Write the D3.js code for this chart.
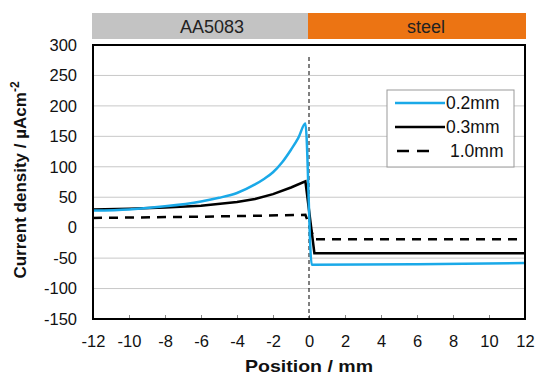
<!DOCTYPE html>
<html>
<head>
<meta charset="utf-8">
<script src="https://cdn.jsdelivr.net/npm/d3@7"></script>
<style>
  body { margin: 0; background: #fff; }
  text { font-family: "Liberation Sans", Arial, sans-serif; }
</style>
</head>
<body>
<div id="chart"></div>
<script>
// series: [position mm, current density µA/cm²]
const thin02 = [[-12, 28], [-10, 30], [-8, 35], [-6, 43], [-5, 49], [-4, 57], [-3, 71], [-2.5, 80],
  [-2, 91], [-1.5, 107], [-1, 128], [-0.6, 147], [-0.2, 171], [0.15, -61], [6, -60], [12, -58]];
const thin03 = [[-12, 30], [-10, 31], [-8, 33], [-6, 36], [-4, 42], [-3, 47], [-2, 55], [-1, 66],
  [-0.2, 76], [0.3, -42], [12, -42]];
const thick10 = [[-12, 16], [-6, 18], [-0.2, 21], [0.3, -19], [12, -19]];

const seriesNames = ["0.2mm", "0.3mm", "1.0mm"];
const xTicks = d3.range(-12, 13, 2);
const yTicks = d3.range(-150, 301, 50);
const materials = [{name: "AA5083", from: -12, to: 0}, {name: "steel", from: 0, to: 12}];

const W = 539, H = 379;
const plotLeft = 93, plotRight = 525, plotTop = 45, plotBottom = 319;

const svg = d3.select("#chart").append("svg").attr("width", W).attr("height", H);

const x = d3.scaleLinear().domain([-12, 12]).range([plotLeft, plotRight]);
const y = d3.scaleLinear().domain([-150, 300]).range([plotBottom, plotTop]);

// material bars on top
svg.selectAll("rect.mat")
  .data(materials)
  .enter().append("rect")
  .attr("class", "mat")
  .attr("x", d => x(d.from) - 1)
  .attr("y", 13)
  .attr("width", d => x(d.to) - x(d.from) + 2)
  .attr("height", 26)
  .attr("fill", (d, i) => i == 0 ? "#c3c3c3" : "#ec7413");

svg.selectAll("text.mat")
  .data(materials)
  .enter().append("text")
  .attr("class", "mat")
  .attr("x", (d, i) => i == 0 ? 212 : 426)
  .attr("y", 33)
  .attr("text-anchor", "middle")
  .attr("font-family", "'Open Sans', sans-serif")
  .attr("font-size", 18)
  .attr("fill", "#222")
  .text(d => d.name);

// grid
svg.append("g")
  .selectAll("line")
  .data(yTicks)
  .enter().append("line")
  .attr("x1", plotLeft).attr("x2", plotRight)
  .attr("y1", d => y(d)).attr("y2", d => y(d))
  .attr("stroke", "#c8c8c8")
  .attr("stroke-width", 1);

// y axis labels
svg.append("g")
  .attr("transform", `translate(${plotLeft},0)`)
  .call(d3.axisLeft(y).tickValues(yTicks).tickFormat(d => String(d)).tickSize(0).tickPadding(16))
  .call(g => g.select(".domain").remove())
  .call(g => g.selectAll("text").attr("font-size", 16.5).attr("fill", "#111")
    .attr("font-family", "'Liberation Sans', Arial, sans-serif"));

// x axis labels + small inner ticks
svg.append("g")
  .attr("transform", `translate(0,${plotBottom})`)
  .call(d3.axisBottom(x).tickValues(xTicks).tickFormat(d => String(d)).tickSize(-4).tickPadding(16))
  .call(g => g.select(".domain").remove())
  .call(g => g.selectAll("line").attr("stroke", "#888"))
  .call(g => g.selectAll("text").attr("font-size", 16.5).attr("fill", "#111")
    .attr("font-family", "'Liberation Sans', Arial, sans-serif"));

// dashed interface line
svg.append("line")
  .attr("x1", x(0)).attr("x2", x(0))
  .attr("y1", plotTop + 12).attr("y2", plotBottom)
  .attr("stroke", "#000")
  .attr("stroke-width", 1)
  .attr("stroke-dasharray", "4,3");

const line = d3.line().x(d => x(d[0])).y(d => y(d[1]));

svg.append("path").datum(thick10)
  .attr("d", line).attr("fill", "none")
  .attr("stroke", "#000").attr("stroke-width", 2.5)
  .attr("stroke-dasharray", "9,7");

svg.append("path").datum(thin03)
  .attr("d", line).attr("fill", "none")
  .attr("stroke", "#000").attr("stroke-width", 2.5);

svg.append("path").datum(thin02)
  .attr("d", d3.line().curve(d3.curveMonotoneX).x(d => x(d[0])).y(d => y(d[1])))
  .attr("fill", "none")
  .attr("stroke", "#1aa9e8").attr("stroke-width", 2.5);

// frame
svg.append("rect")
  .attr("x", plotLeft).attr("y", plotTop)
  .attr("width", plotRight - plotLeft).attr("height", plotBottom - plotTop)
  .attr("fill", "none").attr("stroke", "#000").attr("stroke-width", 2);

// legend
const legend = svg.append("g").attr("transform", "translate(387,90)");
legend.append("rect")
  .attr("width", 127).attr("height", 77)
  .attr("fill", "#fff").attr("stroke", "#999").attr("stroke-width", 1);

const legendStyles = [
  {color: "#1aa9e8", dash: null},
  {color: "#000", dash: null},
  {color: "#000", dash: "12,8"}
];

const rows = legend.selectAll("g.row")
  .data(seriesNames)
  .enter().append("g")
  .attr("class", "row")
  .attr("transform", (d, i) => `translate(0,${13 + i * 24})`);

rows.append("line")
  .attr("x1", (d, i) => i == 2 ? 10 : 8).attr("x2", (d, i) => i == 2 ? 50 : 58)
  .attr("stroke", (d, i) => legendStyles[i].color)
  .attr("stroke-width", 2.5)
  .attr("stroke-dasharray", (d, i) => legendStyles[i].dash);

rows.append("text")
  .attr("x", (d, i) => i == 2 ? 63 : 59)
  .attr("y", 6)
  .attr("font-size", 17.5)
  .attr("fill", "#111")
  .text(d => d);

// axis titles
svg.append("text")
  .attr("x", x(0))
  .attr("y", 372)
  .attr("text-anchor", "middle")
  .attr("font-size", 17)
  .attr("font-weight", "bold")
  .attr("fill", "#111")
  .attr("textLength", 128)
  .attr("lengthAdjust", "spacingAndGlyphs")
  .text("Position / mm");

svg.append("text")
  .attr("transform", `translate(26,180) rotate(-90)`)
  .attr("text-anchor", "middle")
  .attr("font-size", 17)
  .attr("font-weight", "bold")
  .attr("fill", "#111")
  .text("Current density / µAcm")
  .append("tspan")
  .attr("dy", -7)
  .attr("font-size", 12)
  .text("-2");
</script>
</body>
</html>
